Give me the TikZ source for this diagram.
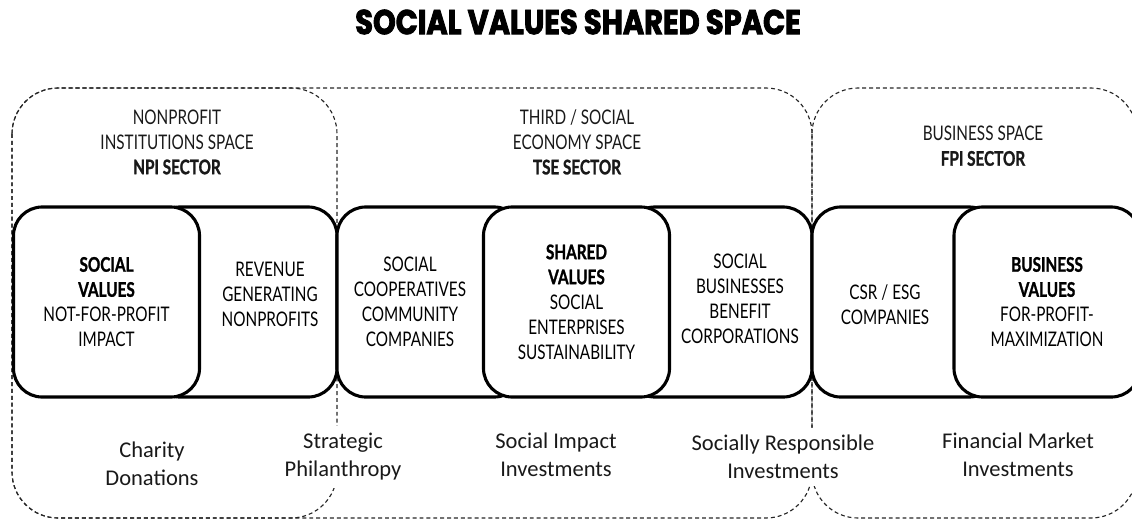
\documentclass[tikz,border=0pt]{standalone}
\usepackage{fontspec}
\setmainfont{Lato}[FakeStretch=0.76, BoldFeatures={FakeBold=1.2}]
\newfontfamily\flowfont{Carlito}
\newfontfamily\titlefont{Poppins}[FakeStretch=0.84, BoldFeatures={FakeBold=2.5}]
\begin{document}
\begin{tikzpicture}[x=0.025cm, y=-0.025cm,
        sectorline/.style={draw=black!85, line width=0.8pt, dash pattern=on 2.8pt off 2.1pt, rounded corners=1.15cm},
        valbox/.style={draw, line width=2.2pt, fill=white, rounded corners=0.72cm, minimum width=4.65cm, minimum height=4.75cm, inner sep=0pt, align=center, font=\fontsize{14.3}{17.8}\selectfont},
        sectortxt/.style={align=center, text=black!90, font=\fontsize{14.3}{17.8}\selectfont},
        boxtxt/.style={align=center, font=\fontsize{14.3}{17.8}\selectfont},
        flowtxt/.style={align=center, fill=white, inner xsep=2pt, inner ysep=5pt, text=black!90, font=\flowfont\fontsize{16}{20}\selectfont}]
        \clip (0, 0) rectangle (1132, 522);
        % title
        \node[font=\titlefont\bfseries\fontsize{24.5}{26}\selectfont] (title) at (578, 22) {SOCIAL VALUES SHARED SPACE};
        % the three spaces
        \draw[sectorline] (12, 88) rectangle (812, 518);
        \draw[sectorline] (12, 88) rectangle (337, 518);
        \draw[sectorline] (812, 88) rectangle (1137, 518);
        \node[sectortxt] (npi) at (177, 142) {NONPROFIT\\INSTITUTIONS SPACE\\\textbf{NPI SECTOR}};
        \node[sectortxt] (tse) at (577, 142) {THIRD / SOCIAL\\ECONOMY SPACE\\\textbf{TSE SECTOR}};
        \node[sectortxt] (fpi) at (983, 146) {BUSINESS SPACE\\\textbf{FPI SECTOR}};
        % boxes in the back
        \node[valbox] (revbox) at (244, 302) {};
        \node[valbox] (coopbox) at (430, 302) {};
        \node[valbox] (sbizbox) at (719, 302) {};
        \node[valbox] (csrbox) at (905, 302) {};
        \node[boxtxt] (revtxt) at (270, 294) {REVENUE\\GENERATING\\NONPROFITS};
        \node[boxtxt] (cooptxt) at (410, 302) {SOCIAL\\COOPERATIVES\\COMMUNITY\\COMPANIES};
        \node[boxtxt] (sbiztxt) at (740, 299) {SOCIAL\\BUSINESSES\\BENEFIT\\CORPORATIONS};
        \node[boxtxt] (csrtxt) at (885, 305) {CSR / ESG\\COMPANIES};
        % boxes in front
        \node[valbox] (socval) at (106.5, 302) {\textbf{SOCIAL}\\\textbf{VALUES}\\NOT-FOR-PROFIT\\IMPACT};
        \node[valbox] (shrval) at (576.5, 302) {\textbf{SHARED}\\\textbf{VALUES}\\SOCIAL\\ENTERPRISES\\SUSTAINABILITY};
        \node[valbox] (bizval) at (1047, 302) {\textbf{BUSINESS}\\\textbf{VALUES}\\FOR-PROFIT-\\MAXIMIZATION};
        % kinds of giving and investing
        \node[flowtxt] (charity) at (152, 464) {Charity\\Donations};
        \node[flowtxt] (strat) at (343, 457) {Strategic\\Philanthropy};
        \node[flowtxt] (impact) at (556, 455) {Social Impact\\Investments};
        \node[flowtxt] (sri) at (783, 457) {Socially Responsible\\Investments};
        \node[flowtxt] (market) at (1018, 455) {Financial Market\\Investments};
    \end{tikzpicture}
\end{document}
